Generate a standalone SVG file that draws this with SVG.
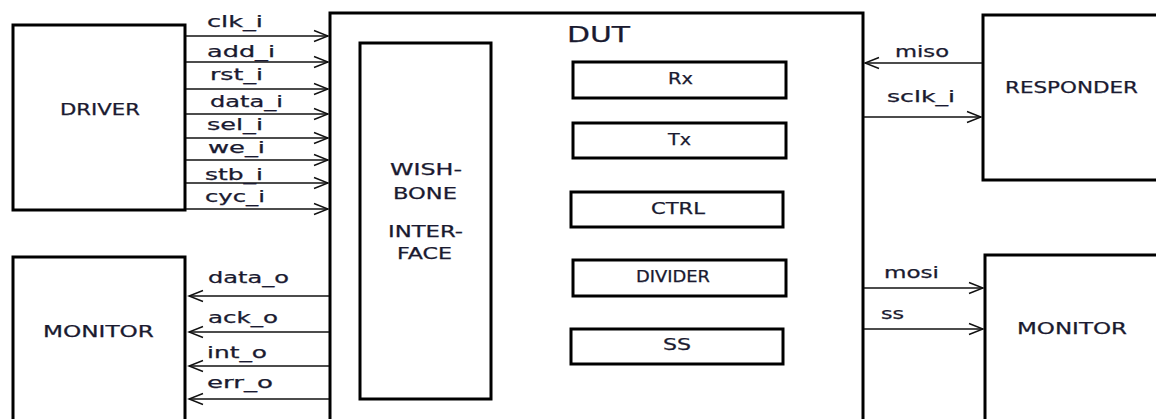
<svg xmlns="http://www.w3.org/2000/svg" width="1156" height="419" viewBox="0 0 1156 419">
<defs>
<marker id="arr" markerUnits="userSpaceOnUse" markerWidth="20" markerHeight="14" refX="15" refY="6" orient="auto" overflow="visible">
<path d="M1,0.5 L15,6 L1,11.5" fill="none" stroke="#111" stroke-width="1.4"/>
</marker>
<style>
.box{fill:#fff;stroke:#000;stroke-width:3}
.blk{fill:#fff;stroke:#000;stroke-width:3}
.ln{stroke:#111;stroke-width:1.5;fill:none;marker-end:url(#arr)}
text{font-family:"DejaVu Sans","Liberation Sans",sans-serif;fill:#1a1a30;stroke:#1a1a30;stroke-width:0.25}
.lbl{font-size:15px}
.nm{font-size:15px}
.dut{font-size:21px}
</style>
</defs>
<rect width="1156" height="419" fill="#fff"/>
<g id="dut">
<rect class="box" x="330" y="13" width="533" height="420"/>
<text class="dut" x="567" y="42" textLength="63" lengthAdjust="spacingAndGlyphs">DUT</text>
</g>
<g id="wishbone">
<rect class="blk" x="360" y="43" width="131" height="356"/>
<text class="nm" x="390" y="175" textLength="72" lengthAdjust="spacingAndGlyphs">WISH-</text>
<text class="nm" x="393" y="199" textLength="64" lengthAdjust="spacingAndGlyphs">BONE</text>
<text class="nm" x="388" y="237" textLength="75" lengthAdjust="spacingAndGlyphs">INTER-</text>
<text class="nm" x="397" y="259" textLength="55" lengthAdjust="spacingAndGlyphs">FACE</text>
</g>
<g id="rx"><rect class="blk" x="573" y="62" width="213" height="36"/><text class="nm" x="668" y="84" textLength="25" lengthAdjust="spacingAndGlyphs">Rx</text></g>
<g id="tx"><rect class="blk" x="573" y="123" width="213" height="35"/><text class="nm" x="668" y="145" textLength="23" lengthAdjust="spacingAndGlyphs">Tx</text></g>
<g id="ctrl"><rect class="blk" x="571" y="192" width="212" height="35"/><text class="nm" x="651" y="214" textLength="54" lengthAdjust="spacingAndGlyphs">CTRL</text></g>
<g id="divider"><rect class="blk" x="573" y="260" width="213" height="36"/><text class="nm" x="636" y="282" textLength="74" lengthAdjust="spacingAndGlyphs">DIVIDER</text></g>
<g id="ss"><rect class="blk" x="571" y="329" width="212" height="35"/><text class="nm" x="663" y="350" textLength="28" lengthAdjust="spacingAndGlyphs">SS</text></g>
<g id="driver">
<rect class="box" x="13" y="25" width="172" height="185"/>
<text class="nm" x="60" y="115" textLength="80" lengthAdjust="spacingAndGlyphs">DRIVER</text>
</g>
<g id="monitor-left">
<rect class="box" x="13" y="257" width="172" height="180"/>
<text class="nm" x="43" y="337" textLength="111" lengthAdjust="spacingAndGlyphs">MONITOR</text>
</g>
<g id="responder">
<rect class="box" x="983" y="15" width="190" height="165"/>
<text class="nm" x="1005" y="93" textLength="133" lengthAdjust="spacingAndGlyphs">RESPONDER</text>
</g>
<g id="monitor-right">
<rect class="box" x="985" y="255" width="190" height="200"/>
<text class="nm" x="1017" y="334" textLength="110" lengthAdjust="spacingAndGlyphs">MONITOR</text>
</g>
<g id="connectors">
<line class="ln" x1="186" y1="36" x2="328" y2="36"/>
<line class="ln" x1="186" y1="62" x2="328" y2="62"/>
<line class="ln" x1="186" y1="89" x2="328" y2="89"/>
<line class="ln" x1="186" y1="114" x2="328" y2="114"/>
<line class="ln" x1="186" y1="138" x2="328" y2="138"/>
<line class="ln" x1="186" y1="160" x2="328" y2="160"/>
<line class="ln" x1="186" y1="183" x2="328" y2="183"/>
<line class="ln" x1="186" y1="209" x2="328" y2="209"/>
<line class="ln" x1="329" y1="296" x2="189" y2="296"/>
<line class="ln" x1="329" y1="332" x2="189" y2="332"/>
<line class="ln" x1="329" y1="366" x2="189" y2="366"/>
<line class="ln" x1="329" y1="399" x2="189" y2="399"/>
<line class="ln" x1="982" y1="63" x2="865" y2="63"/>
<line class="ln" x1="864" y1="117" x2="981" y2="117"/>
<line class="ln" x1="864" y1="288" x2="983" y2="288"/>
<line class="ln" x1="864" y1="329" x2="983" y2="329"/>
<text class="lbl" x="207" y="27" textLength="56" lengthAdjust="spacingAndGlyphs">clk_i</text>
<text class="lbl" x="207" y="57" textLength="68" lengthAdjust="spacingAndGlyphs">add_i</text>
<text class="lbl" x="210" y="80" textLength="53" lengthAdjust="spacingAndGlyphs">rst_i</text>
<text class="lbl" x="210" y="107" textLength="73" lengthAdjust="spacingAndGlyphs">data_i</text>
<text class="lbl" x="207" y="130" textLength="56" lengthAdjust="spacingAndGlyphs">sel_i</text>
<text class="lbl" x="208" y="153" textLength="57" lengthAdjust="spacingAndGlyphs">we_i</text>
<text class="lbl" x="205" y="180" textLength="58" lengthAdjust="spacingAndGlyphs">stb_i</text>
<text class="lbl" x="205" y="202" textLength="60" lengthAdjust="spacingAndGlyphs">cyc_i</text>
<text class="lbl" x="208" y="283" textLength="81" lengthAdjust="spacingAndGlyphs">data_o</text>
<text class="lbl" x="208" y="323" textLength="70" lengthAdjust="spacingAndGlyphs">ack_o</text>
<text class="lbl" x="207" y="358" textLength="60" lengthAdjust="spacingAndGlyphs">int_o</text>
<text class="lbl" x="207" y="388" textLength="66" lengthAdjust="spacingAndGlyphs">err_o</text>
<text class="lbl" x="895" y="57" textLength="54" lengthAdjust="spacingAndGlyphs">miso</text>
<text class="lbl" x="887" y="102" textLength="68" lengthAdjust="spacingAndGlyphs">sclk_i</text>
<text class="lbl" x="884" y="278" textLength="55" lengthAdjust="spacingAndGlyphs">mosi</text>
<text class="lbl" x="881" y="319" textLength="23" lengthAdjust="spacingAndGlyphs">ss</text>
</g>
</svg>
